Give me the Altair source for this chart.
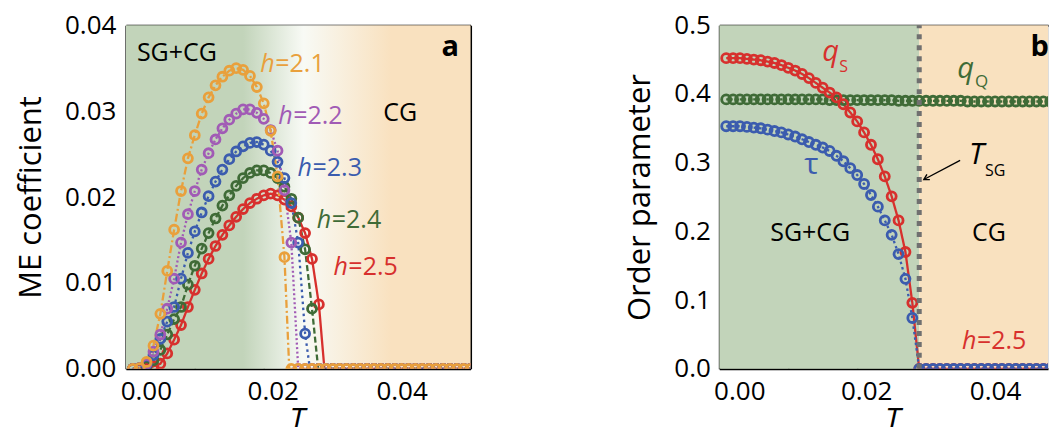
import altair as alt
import pandas as pd

FONT = "Open Sans"

# ---------------- data ----------------
T = [0.001, 0.002, 0.003, 0.004, 0.005, 0.006, 0.007, 0.008, 0.009, 0.010,
     0.011, 0.012, 0.013, 0.014, 0.015, 0.016, 0.017, 0.018, 0.019, 0.020,
     0.021, 0.022, 0.023, 0.024, 0.025, 0.026, 0.027, 0.028, 0.029, 0.030,
     0.031, 0.032, 0.033, 0.034, 0.035, 0.036, 0.037, 0.038, 0.039, 0.040,
     0.041, 0.042, 0.043, 0.044, 0.045, 0.046, 0.047, 0.048, 0.049, 0.050]

# panel a: ME coefficient
me_h21 = [0.0, 0.0001, 0.0008, 0.0027, 0.0064, 0.0114, 0.0162, 0.0207, 0.0245, 0.0272,
          0.0297, 0.0316, 0.0330, 0.0340, 0.0347, 0.0350, 0.0348, 0.0341, 0.0328, 0.0309,
          0.0277, 0.0224, 0.0130] + [0.0] * 27
me_h22 = [0.0, 0.0001, 0.0006, 0.0020, 0.0040, 0.0070, 0.0105, 0.0147, 0.0180, 0.0207,
          0.0232, 0.0251, 0.0267, 0.0280, 0.0290, 0.0297, 0.0302, 0.0302, 0.0298, 0.0291,
          0.0278, 0.0254, 0.0208, 0.0147] + [0.0] * 26
me_h23 = [0.0, 0.0001, 0.0005, 0.0016, 0.0035, 0.0055, 0.0072, 0.0105, 0.0135, 0.0160,
          0.0182, 0.0201, 0.0218, 0.0232, 0.0244, 0.0253, 0.0259, 0.0263, 0.0264, 0.0261,
          0.0254, 0.0241, 0.0222, 0.0193, 0.0147, 0.0041] + [0.0] * 24
me_h24 = [0.0, 0.0001, 0.0003, 0.0010, 0.0022, 0.0040, 0.0058, 0.0072, 0.0098, 0.0120,
          0.0140, 0.0158, 0.0175, 0.0190, 0.0202, 0.0213, 0.0222, 0.0228, 0.0231, 0.0231,
          0.0228, 0.0222, 0.0212, 0.0198, 0.0176, 0.0139, 0.0070] + [0.0] * 23
me_h25 = [0.0, 0.0, 0.0001, 0.0003, 0.0006, 0.0018, 0.0034, 0.0051, 0.0072, 0.0092,
          0.0111, 0.0128, 0.0143, 0.0156, 0.0167, 0.0177, 0.0186, 0.0193, 0.0198, 0.0202,
          0.0204, 0.0202, 0.0197, 0.0189, 0.0176, 0.0158, 0.0128, 0.0075] + [0.0] * 22
# temperature where each curve reaches zero
tc_a = {"h=2.1": 0.0237, "h=2.2": 0.0250, "h=2.3": 0.0267, "h=2.4": 0.0279, "h=2.5": 0.0288}

# panel b: order parameters at h = 2.5
q_s = [0.452, 0.452, 0.452, 0.451, 0.450, 0.449, 0.447, 0.445, 0.442, 0.438,
       0.434, 0.429, 0.423, 0.416, 0.409, 0.402, 0.395, 0.385, 0.373, 0.360,
       0.344, 0.326, 0.305, 0.280, 0.251, 0.216, 0.170, 0.096] + [0.0] * 22
tau = [0.353, 0.353, 0.353, 0.352, 0.351, 0.350, 0.348, 0.346, 0.344, 0.341,
       0.338, 0.334, 0.330, 0.326, 0.322, 0.317, 0.310, 0.302, 0.292, 0.282,
       0.269, 0.253, 0.236, 0.216, 0.195, 0.167, 0.131, 0.074] + [0.0] * 22
q_q = [0.392] * 15 + [0.391] * 10 + [0.390] * 10 + [0.389] * 15
T_SG = 0.029

# ---------------- styles ----------------
W, H = 345, 344
WB = 329
series_a = ["h=2.5", "h=2.4", "h=2.3", "h=2.2", "h=2.1"]      # drawing order
colors_a = ["#d7302d", "#3f6b37", "#3b5cae", "#a15bb5", "#e9a03c"]
dash_a = [[1, 0], [6, 3], [2.5, 3.5], [2, 2.5], [8, 3, 2, 3]]
series_b = ["qQ", "qS", "tau"]
colors_b = ["#3f6b37", "#d7302d", "#3b5cae"]
dash_b = [[2, 2.5], [1, 0], [2.5, 3]]
GREEN_BG = "#c2d4ba"
BEIGE_BG = "#f9e1bf"

# ---------------- tables ----------------
vals_a = {"h=2.1": me_h21, "h=2.2": me_h22, "h=2.3": me_h23, "h=2.4": me_h24, "h=2.5": me_h25}
pts_a = pd.DataFrame([{"T": t, "v": v, "s": s} for s in series_a for t, v in zip(T, vals_a[s])])
line_a = pd.concat([pts_a, pd.DataFrame([{"T": tc_a[s], "v": 0.0, "s": s} for s in series_a])])

vals_b = {"qQ": q_q, "qS": q_s, "tau": tau}
pts_b = pd.DataFrame([{"T": t, "v": v, "s": s} for s in series_b for t, v in zip(T, vals_b[s])])
line_b = pd.concat([pts_b, pd.DataFrame([{"T": T_SG, "v": 0.0, "s": s} for s in ["qS", "tau"]])])

xa_dom = [0.0, 0.05]
xb_dom = [0.0, 0.04768]
ya_dom = [0.0, 0.04]
yb_dom = [0.0, 0.5]


def main_x(title_x):
    return alt.Axis(orient="bottom", values=[0.0029, 0.0213, 0.040],
                    labelExpr="datum.value < 0.01 ? '0.00' : datum.value < 0.03 ? '0.02' : '0.04'",
                    ticks=False, domain=True, domainColor="black", domainWidth=2, grid=False,
                    labelFont=FONT, labelFontSize=26, labelColor="black", labelPadding=10,
                    title="T", titleFont=FONT, titleFontSize=31, titleFontStyle="italic",
                    titleFontWeight="normal", titleColor="black", titlePadding=1,
                    titleX=title_x)


def main_y(title, values, fmt, pad):
    return alt.Axis(orient="left", values=values, format=fmt, ticks=False, domain=True,
                    domainColor="black", domainWidth=2, grid=False, labelFont=FONT,
                    labelFontSize=26, labelColor="black", labelPadding=pad, title=title,
                    titleFont=FONT, titleFontSize=31, titleFontWeight="normal",
                    titleColor="black", titlePadding=17)


def tick_axis(orient, offset, values, frame):
    return alt.Axis(orient=orient, offset=offset, values=values, labels=False, domain=frame,
                    domainColor="black", domainWidth=2, grid=False, ticks=True, tickSize=8,
                    tickWidth=1.5, tickColor="black", title=None)


def text_layer(df, size, color, xs, ys, style="normal", weight="normal", align="left",
               baseline="alphabetic", dx=0):
    return alt.Chart(df).mark_text(font=FONT, fontSize=size, fontStyle=style, fontWeight=weight,
                                   align=align, baseline=baseline, dx=dx, color=color).encode(
        x=alt.X("T:Q", scale=xs, axis=None),
        y=alt.Y("v:Q", scale=ys, axis=None),
        text="t:N")


# ---------------- panel a ----------------
xs_a = alt.Scale(domain=xa_dom, nice=False, zero=False)
ys_a = alt.Scale(domain=ya_dom, nice=False)

bg_a = pd.DataFrame({"x0": [xa_dom[0]], "x1": [xa_dom[1]], "y0": [ya_dom[0]], "y1": [ya_dom[1]]})
grad = {"gradient": "linear", "x1": 0, "y1": 0, "x2": 1, "y2": 0,
        "stops": [{"offset": 0.0, "color": GREEN_BG}, {"offset": 0.34, "color": GREEN_BG},
                  {"offset": 0.515, "color": "#f8faf5"}, {"offset": 0.77, "color": BEIGE_BG},
                  {"offset": 1.0, "color": BEIGE_BG}]}
a_bg = alt.Chart(bg_a).mark_rect(fill=grad).encode(
    x=alt.X("x0:Q", scale=xs_a, axis=main_x(171)), x2="x1",
    y=alt.Y("y0:Q", scale=ys_a, axis=main_y("ME coefficient", [0, 0.01, 0.02, 0.03, 0.04], ".2f", 10)),
    y2="y1")

a_lines = alt.Chart(line_a).mark_line(strokeWidth=2.3, clip=True).encode(
    x=alt.X("T:Q", scale=xs_a, axis=tick_axis("top", -H, [0.01, 0.02, 0.03, 0.04], False)),
    y=alt.Y("v:Q", scale=ys_a, axis=tick_axis("right", -W, [0.01, 0.02, 0.03], False)),
    color=alt.Color("s:N", scale=alt.Scale(domain=series_a, range=colors_a), legend=None),
    strokeDash=alt.StrokeDash("s:N", scale=alt.Scale(domain=series_a, range=dash_a), legend=None),
    detail="s:N")

a_pts = alt.Chart(pts_a).mark_point(shape="circle", size=80, strokeWidth=2.8, filled=False,
                                    clip=True, opacity=1).encode(
    x=alt.X("T:Q", scale=xs_a, axis=tick_axis("bottom", -H, [0.01, 0.02, 0.03, 0.04], True)),
    y=alt.Y("v:Q", scale=ys_a, axis=tick_axis("left", -W, [0.01, 0.02, 0.03], True)),
    color=alt.Color("s:N", scale=alt.Scale(domain=series_a, range=colors_a), legend=None))

lab_h_T = [0.0195, 0.0221, 0.0249, 0.0277, 0.0301]
lab_h_v = [0.0346, 0.0285, 0.0224, 0.0164, 0.0109]
lab_h_txt = ["=2.1", "=2.2", "=2.3", "=2.4", "=2.5"]
lab_h_col = ["#e9a03c", "#a15bb5", "#3b5cae", "#3f6b37", "#d7302d"]
a_texts = []
for t_, v_, s_, c_ in zip(lab_h_T, lab_h_v, lab_h_txt, lab_h_col):
    a_texts.append(text_layer(pd.DataFrame({"T": [t_], "v": [v_], "t": ["h"]}), 25, c_,
                              xs_a, ys_a, style="italic"))
    a_texts.append(text_layer(pd.DataFrame({"T": [t_], "v": [v_], "t": [s_]}), 25, c_,
                              xs_a, ys_a, dx=15))
a_texts.append(text_layer(pd.DataFrame({"T": [0.0016, 0.03735], "v": [0.0358, 0.0288],
                                        "t": ["SG+CG", "CG"]}), 25, "black", xs_a, ys_a))
a_texts.append(text_layer(pd.DataFrame({"T": [0.0458], "v": [0.0364], "t": ["a"]}), 29, "black",
                          xs_a, ys_a, weight="bold"))

panel_a = alt.layer(a_bg, a_lines, a_pts, *a_texts).resolve_axis(
    x="independent", y="independent").properties(width=W, height=H)

# ---------------- panel b ----------------
xs_b = alt.Scale(domain=xb_dom, nice=False, zero=False)
ys_b = alt.Scale(domain=yb_dom, nice=False)

bg_sg = pd.DataFrame({"x0": [xb_dom[0]], "x1": [T_SG], "y0": [yb_dom[0]], "y1": [yb_dom[1]]})
bg_cg = pd.DataFrame({"x0": [T_SG], "x1": [xb_dom[1]], "y0": [yb_dom[0]], "y1": [yb_dom[1]]})
b_bg1 = alt.Chart(bg_sg).mark_rect(color=GREEN_BG).encode(
    x=alt.X("x0:Q", scale=xs_b, axis=main_x(173)), x2="x1",
    y=alt.Y("y0:Q", scale=ys_b, axis=main_y("Order parameter", [0, 0.1, 0.2, 0.3, 0.4, 0.5], ".1f", 9)),
    y2="y1")
b_bg2 = alt.Chart(bg_cg).mark_rect(color=BEIGE_BG).encode(
    x=alt.X("x0:Q", scale=xs_b, axis=None), x2="x1",
    y=alt.Y("y0:Q", scale=ys_b, axis=None), y2="y1")

b_lines = alt.Chart(line_b).mark_line(strokeWidth=2.3, clip=True).encode(
    x=alt.X("T:Q", scale=xs_b, axis=tick_axis("top", -H, [0.01, 0.02, 0.03, 0.04], False)),
    y=alt.Y("v:Q", scale=ys_b, axis=tick_axis("right", -WB, [0.1, 0.2, 0.3, 0.4], False)),
    color=alt.Color("s:N", scale=alt.Scale(domain=series_b, range=colors_b), legend=None),
    strokeDash=alt.StrokeDash("s:N", scale=alt.Scale(domain=series_b, range=dash_b), legend=None),
    detail="s:N")

b_pts = alt.Chart(pts_b).mark_point(shape="circle", size=82, strokeWidth=2.8, filled=False,
                                    clip=True, opacity=1).encode(
    x=alt.X("T:Q", scale=xs_b, axis=tick_axis("bottom", -H, [0.01, 0.02, 0.03, 0.04], True)),
    y=alt.Y("v:Q", scale=ys_b, axis=None),
    color=alt.Color("s:N", scale=alt.Scale(domain=series_b, range=colors_b), legend=None))

tsg = pd.DataFrame({"T": [T_SG], "y0": [yb_dom[0]], "y1": [yb_dom[1]]})
b_tsg = alt.Chart(tsg).mark_rule(color="#707070", strokeWidth=5, strokeDash=[5, 6]).encode(
    x=alt.X("T:Q", scale=xs_b, axis=None), y=alt.Y("y0:Q", scale=ys_b, axis=None), y2="y1")

arrow = pd.DataFrame({"T": [0.03493], "v": [0.3032], "T2": [0.02967], "v2": [0.2755]})
b_arrow = alt.Chart(arrow).mark_rule(color="black", strokeWidth=1.4).encode(
    x=alt.X("T:Q", scale=xs_b, axis=None), y=alt.Y("v:Q", scale=ys_b, axis=None),
    x2="T2", y2="v2")
b_head = alt.Chart(arrow).mark_point(shape="M -0.55 0.95 L 0 0 L 0.55 0.95", size=120, angle=241,
                                     filled=False, color="black", strokeWidth=1.4,
                                     opacity=1).encode(
    x=alt.X("T2:Q", scale=xs_b, axis=None), y=alt.Y("v2:Q", scale=ys_b, axis=None))

b_texts = [
    text_layer(pd.DataFrame({"T": [0.01493], "v": [0.4475], "t": ["q"]}), 29, "#d7302d", xs_b, ys_b, style="italic"),
    text_layer(pd.DataFrame({"T": [0.01739], "v": [0.4319], "t": ["S"]}), 16, "#d7302d", xs_b, ys_b),
    text_layer(pd.DataFrame({"T": [0.0345], "v": [0.4227], "t": ["q"]}), 29, "#3f6b37", xs_b, ys_b, style="italic"),
    text_layer(pd.DataFrame({"T": [0.0371], "v": [0.4096], "t": ["Q"]}), 17, "#3f6b37", xs_b, ys_b),
    text_layer(pd.DataFrame({"T": [0.01232], "v": [0.2828], "t": ["τ"]}), 30, "#3b5cae", xs_b, ys_b),
    text_layer(pd.DataFrame({"T": [0.03623], "v": [0.2974], "t": ["T"]}), 30, "black", xs_b, ys_b, style="italic"),
    text_layer(pd.DataFrame({"T": [0.03855], "v": [0.2799], "t": ["SG"]}), 16, "black", xs_b, ys_b),
    text_layer(pd.DataFrame({"T": [0.01319, 0.0391], "v": [0.198, 0.198], "t": ["SG+CG", "CG"]}), 25, "black",
               xs_b, ys_b, align="center", baseline="middle"),
    text_layer(pd.DataFrame({"T": [0.0352], "v": [0.0292], "t": ["h"]}), 25, "#d7302d", xs_b, ys_b, style="italic"),
    text_layer(pd.DataFrame({"T": [0.0352], "v": [0.0292], "t": ["=2.5"]}), 25, "#d7302d", xs_b, ys_b, dx=15),
    text_layer(pd.DataFrame({"T": [0.04514], "v": [0.4548], "t": ["b"]}), 29, "black", xs_b, ys_b, weight="bold"),
]

panel_b = alt.layer(b_bg1, b_bg2, b_lines, b_pts, b_tsg, b_arrow, b_head, *b_texts).resolve_axis(
    x="independent", y="independent").properties(width=WB, height=H)

chart = alt.hconcat(panel_a, panel_b, spacing=151).resolve_scale(
    color="independent", strokeDash="independent"
).properties(
    padding={"left": 7, "top": 3, "right": 0, "bottom": 0}
).configure_view(strokeWidth=0).configure(background="white")

chart.save("out.html", embed_options={"renderer": "svg", "actions": False})
